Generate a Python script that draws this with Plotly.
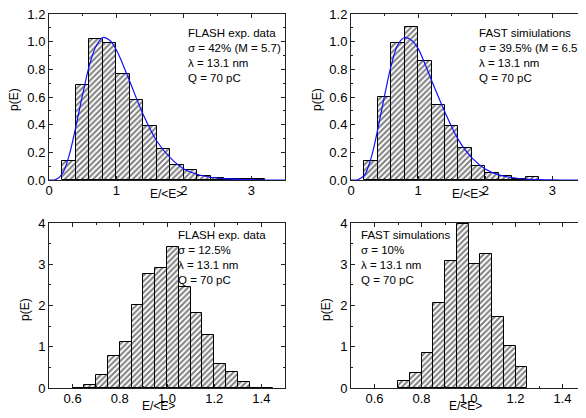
"""
Energy distributions p(E) of FEL pulses: FLASH data vs FAST simulations
"""
import plotly.graph_objects as go

# --- top row: wide histograms, bin width 0.2 ---
top_bin_width = 0.2
top_bin_starts = [0.2, 0.4, 0.6, 0.8, 1.0, 1.2, 1.4, 1.6, 1.8, 2.0, 2.2, 2.4, 2.6, 2.8, 3.0]
flash_top_p = [0.138, 0.69, 1.018, 0.987, 0.768, 0.575, 0.39, 0.223, 0.109, 0.073,
               0.03, 0.017, 0.01, 0.008, 0.005]
fast_top_starts = [0.2, 0.4, 0.6, 0.8, 1.0, 1.2, 1.4, 1.6, 1.8, 2.0, 2.2, 2.4, 2.6]
fast_top_p = [0.136, 0.60, 0.99, 1.103, 0.86, 0.54, 0.39, 0.233, 0.104, 0.048,
              0.03, 0.01, 0.019]

# gamma-like fit curves
curve_x = [0, 0.1, 0.2, 0.3, 0.4, 0.5, 0.6, 0.7, 0.8, 0.9, 1.0, 1.1, 1.2, 1.4,
           1.6, 1.8, 2.0, 2.2, 2.5, 3.0, 3.5]
flash_curve = [0, 0.003, 0.047, 0.18, 0.39, 0.62, 0.83, 0.97, 1.03, 1.01, 0.94,
               0.83, 0.71, 0.47, 0.28, 0.16, 0.08, 0.04, 0.013, 0.002, 0]
fast_curve = [0, 0.002, 0.035, 0.16, 0.37, 0.61, 0.83, 0.98, 1.03, 1.01, 0.95,
              0.84, 0.72, 0.49, 0.29, 0.16, 0.08, 0.037, 0.011, 0.001, 0]

# --- bottom row: narrow histograms, bin width 0.05 ---
bot_bin_width = 0.05
flash_bot_starts = [0.60, 0.65, 0.70, 0.75, 0.80, 0.85, 0.90, 0.95, 1.00, 1.05,
                    1.10, 1.15, 1.20, 1.25, 1.30, 1.35, 1.40]
flash_bot_p = [0.01, 0.08, 0.31, 0.78, 1.11, 2.02, 2.76, 2.90, 3.41, 2.46,
               1.83, 1.28, 0.57, 0.40, 0.14, 0.01, 0.01]
fast_bot_starts = [0.70, 0.75, 0.80, 0.85, 0.90, 0.95, 1.00, 1.05, 1.10, 1.15, 1.20]
fast_bot_p = [0.18, 0.36, 0.86, 2.07, 3.09, 3.98, 3.01, 3.26, 1.73, 1.03, 0.52]

labels = [
    "FLASH exp. data<br>σ = 42% (M = 5.7)<br>λ = 13.1 nm<br>Q = 70 pC",
    "FAST simiulations<br>σ = 39.5% (M = 6.5)<br>λ = 13.1 nm<br>Q = 70 pC",
    "FLASH exp. data<br>σ = 12.5%<br>λ = 13.1 nm<br>Q = 70 pC",
    "FAST simulations<br>σ = 10%<br>λ = 13.1 nm<br>Q = 70 pC",
]

FONT = "Liberation Sans, Arial, sans-serif"

# the page body adds an 8px margin, so the figure is a bit smaller than the window
OFF = 8
W, H = 586 - OFF, 418 - OFF


def px_x(x):
    return (x - OFF) / W


def px_y(y):
    return 1 - (y - OFF) / H


def hist_bar(starts, heights, width, xa, ya):
    return go.Bar(
        x=[s + width / 2 for s in starts], y=heights, width=width,
        xaxis=xa, yaxis=ya,
        marker=dict(color="white",
                    line=dict(color="black", width=1),
                    pattern=dict(shape="/", size=4, solidity=0.5,
                                 fgcolor="black", bgcolor="white")),
        showlegend=False, hoverinfo="x+y",
    )


fig = go.Figure()
fig.add_trace(hist_bar(top_bin_starts, flash_top_p, top_bin_width, "x", "y"))
fig.add_trace(go.Scatter(x=curve_x, y=flash_curve, mode="lines", line_shape="spline",
                         line=dict(color="#1010ff", width=1.2), xaxis="x", yaxis="y",
                         showlegend=False))
fig.add_trace(hist_bar(fast_top_starts, fast_top_p, top_bin_width, "x2", "y2"))
fig.add_trace(go.Scatter(x=curve_x, y=fast_curve, mode="lines", line_shape="spline",
                         line=dict(color="#1010ff", width=1.2), xaxis="x2", yaxis="y2",
                         showlegend=False))
fig.add_trace(hist_bar(flash_bot_starts, flash_bot_p, bot_bin_width, "x3", "y3"))
fig.add_trace(hist_bar(fast_bot_starts, fast_bot_p, bot_bin_width, "x4", "y4"))

left_dom = [px_x(49), px_x(285)]
right_dom = [px_x(351), 1.0]
top_dom = [px_y(180), px_y(14)]
bot_dom = [px_y(388), px_y(223)]

common = dict(showline=True, mirror="ticks", linecolor="#222", linewidth=1,
              ticks="inside", ticklen=4, tickcolor="#222", showgrid=False,
              zeroline=False, automargin=False, ticklabeloverflow="allow",
              tickfont=dict(size=13, color="black"))


def axis(dom, anchor, rng, dtick, minor, fmt, standoff=0):
    return dict(common, domain=dom, anchor=anchor, range=rng, dtick=dtick,
                tickformat=fmt, ticklabelstandoff=standoff,
                minor=dict(ticks="inside", ticklen=2, dtick=minor, tickcolor="#222"))


fig.update_layout(
    width=W, height=H,
    margin=dict(l=0, r=0, t=0, b=0, autoexpand=False),
    paper_bgcolor="white", plot_bgcolor="white",
    font=dict(family=FONT, size=12, color="black"),
    bargap=0,
    xaxis=axis(left_dom, "y", [0, 3.5], 1, 0.5, "d", -2),
    yaxis=axis(top_dom, "x", [0, 1.2001], 0.2, 0.1, ".1f"),
    xaxis2=axis(right_dom, "y2", [0, 3.5], 1, 0.5, "d", -2),
    yaxis2=axis(top_dom, "x2", [0, 1.2001], 0.2, 0.1, ".1f"),
    xaxis3=axis(left_dom, "y3", [0.5, 1.5], 0.2, 0.1, ".1f", -2),
    yaxis3=axis(bot_dom, "x3", [0, 4], 1, 0.5, "d"),
    xaxis4=axis(right_dom, "y4", [0.5, 1.5], 0.2, 0.1, ".1f", -2),
    yaxis4=axis(bot_dom, "x4", [0, 4], 1, 0.5, "d"),
)

# text boxes in the corner of each panel
label_pos = [(186, 25), (477, 25), (176, 227), (359, 227)]
for text, (px, py) in zip(labels, label_pos):
    fig.add_annotation(text=text, x=px_x(px), y=px_y(py), xref="paper", yref="paper",
                       xanchor="left", yanchor="top", align="left", showarrow=False,
                       font=dict(size=11.5, color="black"))

# axis titles, placed tight to the tick labels like the original
xtitle_pos = [(166, 194), (468, 194), (158, 406), (465, 406)]
for px, py in xtitle_pos:
    fig.add_annotation(text="E/<E>", x=px_x(px), y=px_y(py), xref="paper", yref="paper",
                       xanchor="center", yanchor="middle", showarrow=False,
                       font=dict(size=12, color="black"))
ytitle_pos = [(14, 100), (317, 100), (25, 310), (326, 310)]
for px, py in ytitle_pos:
    fig.add_annotation(text="p(E)", x=px_x(px), y=px_y(py), xref="paper", yref="paper",
                       xanchor="center", yanchor="middle", textangle=-90,
                       showarrow=False, font=dict(size=12, color="black"))

fig.write_html("out.html")
